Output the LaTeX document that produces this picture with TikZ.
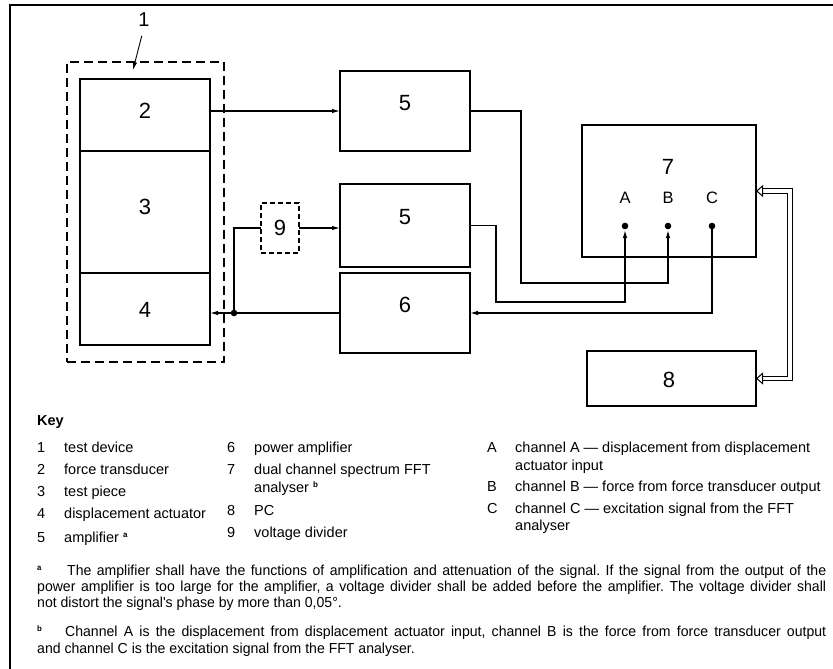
\documentclass[tikz,border=0pt]{standalone}
\usepackage{fontspec}
\setmainfont{Liberation Sans}
\newfontfamily\narrowfont{Liberation Sans}[FakeStretch=0.97]
\usetikzlibrary{arrows.meta}

\newcommand\keysup[1]{\raisebox{5pt}{\fontsize{8}{8}\selectfont\bfseries #1}}
\frenchspacing

\begin{document}
\begin{tikzpicture}[x=1pt,y=-1pt,>={Latex[length=8pt,width=4.5pt]},
  blk/.style={draw,line width=1.2pt,inner sep=0pt,outer sep=0pt},
  grp/.style={draw,line width=1.2pt,inner sep=0pt,outer sep=0pt,dash pattern=on 9pt off 5pt},
  num/.style={inner sep=0pt,font=\fontsize{22}{22}\selectfont},
  sig/.style={line width=1.2pt},
  dbl/.style={double,double distance=3.5pt,line width=1pt,
    {Triangle[open,length=7pt,width=12pt]}-{Triangle[open,length=7pt,width=12pt]}},
  key/.style={inner sep=0pt,anchor=base west,font=\fontsize{14.5}{17}\selectfont},
  fn/.style={inner sep=0pt,anchor=base west,font=\narrowfont\fontsize{14.5}{16}\selectfont}]
  \useasboundingbox (0,0) rectangle (833,669);

  % Frame
  \draw[line width=2pt] (10,669) -- (10,5) -- (833,5);

  % Test device
  \node[grp,minimum width=157pt,minimum height=300pt] (g1) at (145.5,212) {};
  \node[blk,minimum width=130pt,minimum height=72pt]  (b2) at (145,115) {};
  \node[blk,minimum width=130pt,minimum height=122pt] (b3) at (145,212) {};
  \node[blk,minimum width=130pt,minimum height=72pt]  (b4) at (145,309) {};
  \node[num] (n2) at (145,111) {2};
  \node[num] (n3) at (145,207) {3};
  \node[num] (n4) at (145,310) {4};
  \node[inner sep=0pt,font=\fontsize{20}{20}\selectfont] (n1) at (144,20) {1};
  \coordinate (p1) at (133,70);
  \draw[line width=0.9pt,->,shorten <=9pt] (n1.south) -- (p1);

  % Amplifiers, power amplifier, divider
  \node[blk,minimum width=130pt,minimum height=80pt] (b5a) at (405,111) {};
  \node[blk,minimum width=130pt,minimum height=83pt] (b5b) at (405,225.5) {};
  \node[blk,minimum width=130pt,minimum height=80pt] (b6)  at (405,313) {};
  \node[grp,dash pattern=on 5pt off 3pt,minimum width=38pt,minimum height=50pt] (b9) at (280,228) {};
  \node[num] (n5a) at (405,103) {5};
  \node[num] (n5b) at (405,217) {5};
  \node[num] (n6)  at (405,305) {6};
  \node[num] (n9)  at (280,228) {9};

  % Analyser and PC
  \node[blk,minimum width=174pt,minimum height=132pt] (b7) at (669,191) {};
  \node[blk,minimum width=169pt,minimum height=55pt]  (b8) at (671.5,378.5) {};
  \node[num] (n7) at (668,167) {7};
  \node[num] (n8) at (669,380) {8};
  \foreach \c/\x in {A/625,B/668,C/712} {
    \node[inner sep=0pt,font=\fontsize{16.5}{16.5}\selectfont] (l\c) at (\x,198) {\c};
    \coordinate (ch\c) at (\x,226);
    \fill (ch\c) circle (3.3pt);
  }

  % Signals
  \coordinate (j1) at (234,313);
  \coordinate (r1) at (521,283);
  \coordinate (r2) at (496,302);
  \draw[sig,->] (b5a.west -| b2.east) -- (b5a.west);
  \draw[sig,->] (b9.east) -- (b9.east -| b5b.west);
  \draw[sig] (b9.west) -| (j1);
  \draw[sig,->] (b6.west) -- (b6.west -| b4.east);
  \fill (j1) circle (3.3pt);
  \draw[sig,->,shorten >=4pt] (b5a.east) -| (r1) -| (chB);
  \draw[sig,->,shorten >=4pt] (b5b.east) -| (r2) -| (chA);
  \draw[sig,->] (chC) |- (b6.east);
  \draw[dbl] (b7.east) -- ++(34,0) |- (b8.east);

  % Key
  \node[key,font=\fontsize{14.5}{17}\selectfont\bfseries] (kh) at (37,425) {Key};
  \foreach \n/\t/\y in {1/test device/452,2/force transducer/474,3/test piece/496,
      4/displacement actuator/518,5/amplifier \keysup{a}/542} {
    \node[key] (kn\n) at (37,\y) {\n};
    \node[key] (kt\n) at (64,\y) {\t};
  }
  \foreach \n/\t/\y in {6/power amplifier/452,7/dual channel spectrum FFT/474,
      8/PC/515,9/voltage divider/537} {
    \node[key] (kn\n) at (227,\y) {\n};
    \node[key] (kt\n) at (254,\y) {\t};
  }
  \node[key] (kt7b) at (254,492) {analyser \keysup{b}};
  \foreach \n/\t/\y in {A/channel A — displacement from displacement/452,
      B/channel B — force from force transducer output/491,
      C/channel C — excitation signal from the FFT/513} {
    \node[key] (kn\n) at (487,\y) {\n};
    \node[key] (kt\n) at (515,\y) {\t};
  }
  \node[key] (ktAb) at (515,470) {actuator input};
  \node[key] (ktCb) at (515,530) {analyser};

  % Footnotes
  \node[fn] (fa1) at (37,575) {\makebox[789pt][s]{\makebox[30pt][l]{\keysup{a}}The amplifier shall have the functions of amplification and attenuation of the signal. If the signal from the output of the}};
  \node[fn] (fa2) at (37,591) {\makebox[789pt][s]{power amplifier is too large for the amplifier, a voltage divider shall be added before the amplifier. The voltage divider shall}};
  \node[fn] (fa3) at (37,607) {not distort the signal's phase by more than 0,05°.};
  \node[fn] (fb1) at (37,636) {\makebox[789pt][s]{\makebox[28pt][l]{\keysup{b}}Channel A is the displacement from displacement actuator input, channel B is the force from force transducer output}};
  \node[fn] (fb2) at (37,653) {and channel C is the excitation signal from the FFT analyser.};
\end{tikzpicture}
\end{document}
